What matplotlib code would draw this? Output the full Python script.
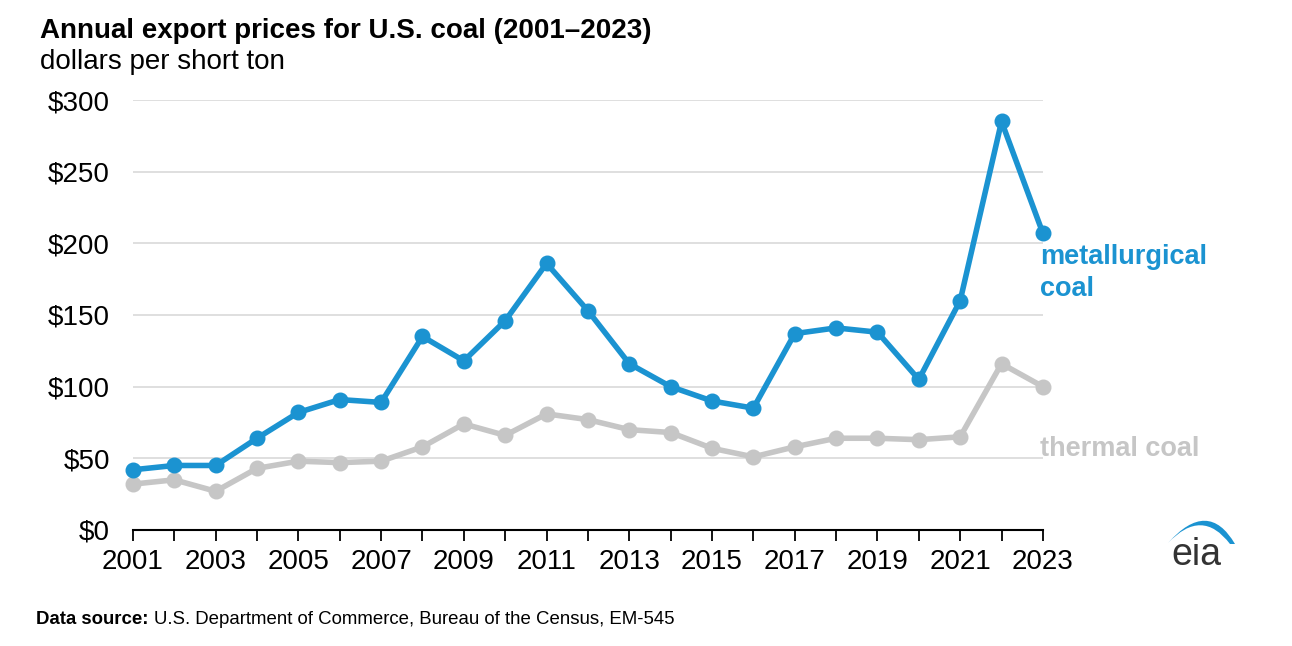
import numpy as np
import matplotlib
matplotlib.use("Agg")
import matplotlib.pyplot as plt
from matplotlib.path import Path
from matplotlib.patches import PathPatch

plt.rcParams['font.family'] = ['Liberation Sans', 'DejaVu Sans']

years = list(range(2001, 2024))
met_coal = [42, 45, 45, 64, 82, 91, 89, 135, 118, 146, 186, 153, 116, 100,
            90, 85, 137, 141, 138, 105, 160, 285, 207]
thermal_coal = [32, 35, 27, 43, 48, 47, 48, 58, 74, 66, 81, 77, 70, 68,
                57, 51, 58, 64, 64, 63, 65, 116, 100]
y_ticks = [0, 50, 100, 150, 200, 250, 300]
x_labels = list(range(2001, 2024, 2))

blue = '#1b93d1'
gray = '#c6c6c6'

W, H = 1292, 646


def fx(x):
    return x / W


def fy(y):
    return 1 - y / H


fig = plt.figure(figsize=(12.92, 6.46), dpi=100)
ax = fig.add_axes([0.1029, 0.1796, 0.7043, 0.6656])

for v in y_ticks[1:]:
    ax.axhline(v, color='#d9d9d9', lw=1.2, zorder=0)

ax.plot(years, thermal_coal, color=gray, lw=4, marker='o', ms=10.5,
        clip_on=False, zorder=3)
ax.plot(years, met_coal, color=blue, lw=4, marker='o', ms=10.5,
        clip_on=False, zorder=4)

ax.set_xlim(2001, 2023)
ax.set_ylim(0, 300)
ax.set_yticks(y_ticks)
ax.set_yticklabels(['$' + str(v) for v in y_ticks], fontsize=20)
ax.set_xticks(years)
ax.set_xticklabels([str(y) if y in x_labels else '' for y in years], fontsize=20)
ax.tick_params(axis='y', length=0, pad=16.5)
ax.tick_params(axis='x', length=8, width=1.3, direction='out', pad=6)
for s in ['top', 'right', 'left']:
    ax.spines[s].set_visible(False)
ax.spines['bottom'].set_linewidth(1.5)
ax.spines['bottom'].set_zorder(2)

# series labels
fig.text(fx(1040), fy(257), 'metallurgical', color=blue, fontsize=19.5,
         fontweight='bold', ha='left', va='center')
fig.text(fx(1040), fy(289), 'coal', color=blue, fontsize=19.5,
         fontweight='bold', ha='left', va='center')
fig.text(fx(1040), fy(449), 'thermal coal', color=gray, fontsize=19.5,
         fontweight='bold', ha='left', va='center')

# titles
fig.text(fx(40), fy(31), 'Annual export prices for U.S. coal (2001\u20132023)',
         fontsize=20, fontweight='bold', ha='left', va='center')
fig.text(fx(40), fy(62), 'dollars per short ton',
         fontsize=20, ha='left', va='center')

# source
t = fig.text(fx(36), fy(620), 'Data source:', fontsize=13.4,
             fontweight='bold', ha='left', va='center')
fig.canvas.draw()
bb = t.get_window_extent()
fig.text(bb.x1 / W + 0.0045, fy(620),
         'U.S. Department of Commerce, Bureau of the Census, EM-545',
         fontsize=13.4, ha='left', va='center')

# eia logo
fig.text(fx(1196), fy(565), 'eia', fontsize=27, color='#333333',
         ha='center', va='baseline')
verts = [(1168, 543), (1208, 498), (1235, 544), (1230, 544), (1202, 507), (1168, 543)]
verts = [(fx(x), fy(y)) for x, y in verts]
codes = [Path.MOVETO, Path.CURVE3, Path.CURVE3, Path.LINETO, Path.CURVE3, Path.CURVE3]
fig.patches.append(PathPatch(Path(verts, codes), facecolor=blue, edgecolor='none',
                             transform=fig.transFigure))

fig.savefig('out.png', dpi=100)
